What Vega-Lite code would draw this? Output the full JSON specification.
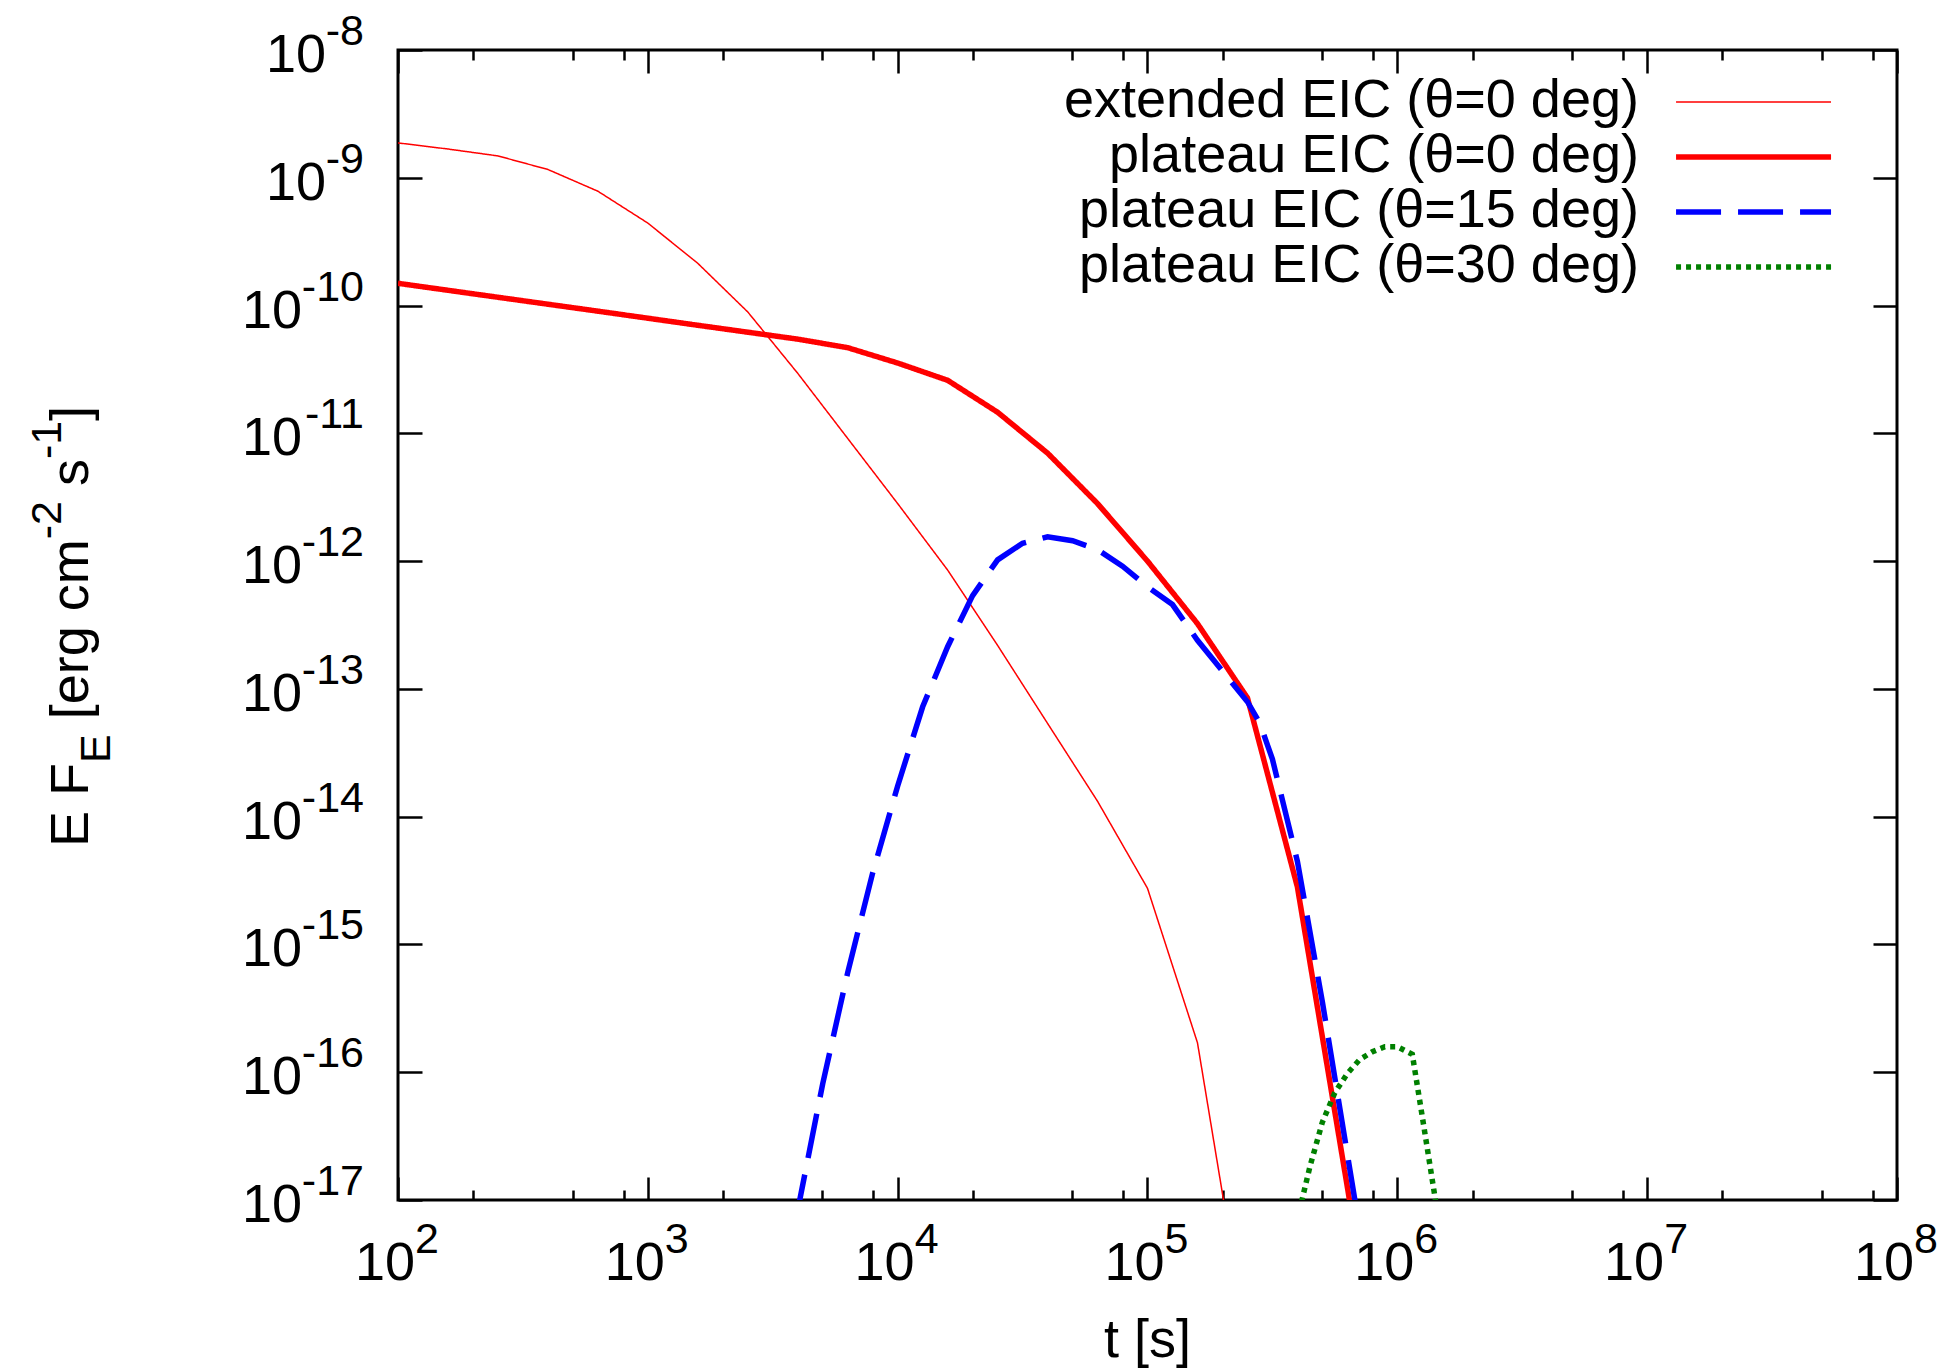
{
  "$schema": "https://vega.github.io/schema/vega-lite/v6.json",
  "width": 1499,
  "height": 1150,
  "autosize": {"type": "none"},
  "padding": {"left": 398, "top": 50, "right": 50, "bottom": 171},
  "background": "white",
  "config": {
    "view": {"stroke": "black", "strokeWidth": 3},
    "text": {"font": "Liberation Sans", "color": "black"}
  },
  "resolve": {"axis": {"x": "independent", "y": "independent"}},
  "datasets": {
    "curves": [
      {"series": "extended EIC (θ=0 deg)", "t": 100, "F": 1.875e-9},
      {"series": "extended EIC (θ=0 deg)", "t": 158.5, "F": 1.679e-9},
      {"series": "extended EIC (θ=0 deg)", "t": 251.2, "F": 1.483e-9},
      {"series": "extended EIC (θ=0 deg)", "t": 398.1, "F": 1.161e-9},
      {"series": "extended EIC (θ=0 deg)", "t": 631, "F": 7.85e-10},
      {"series": "extended EIC (θ=0 deg)", "t": 1000, "F": 4.42e-10},
      {"series": "extended EIC (θ=0 deg)", "t": 1585, "F": 2.14e-10},
      {"series": "extended EIC (θ=0 deg)", "t": 2512, "F": 8.91e-11},
      {"series": "extended EIC (θ=0 deg)", "t": 3981, "F": 2.95e-11},
      {"series": "extended EIC (θ=0 deg)", "t": 6310, "F": 9.12e-12},
      {"series": "extended EIC (θ=0 deg)", "t": 10000, "F": 2.82e-12},
      {"series": "extended EIC (θ=0 deg)", "t": 15850, "F": 8.51e-13},
      {"series": "extended EIC (θ=0 deg)", "t": 25120, "F": 2.19e-13},
      {"series": "extended EIC (θ=0 deg)", "t": 39810, "F": 5.37e-14},
      {"series": "extended EIC (θ=0 deg)", "t": 63100, "F": 1.32e-14},
      {"series": "extended EIC (θ=0 deg)", "t": 100000, "F": 2.75e-15},
      {"series": "extended EIC (θ=0 deg)", "t": 158500, "F": 1.7e-16},
      {"series": "extended EIC (θ=0 deg)", "t": 223900, "F": 2.88e-18},
      {"series": "plateau EIC (θ=0 deg)", "t": 100, "F": 1.493e-10},
      {"series": "plateau EIC (θ=0 deg)", "t": 251.2, "F": 1.161e-10},
      {"series": "plateau EIC (θ=0 deg)", "t": 631, "F": 9.04e-11},
      {"series": "plateau EIC (θ=0 deg)", "t": 1585, "F": 7.01e-11},
      {"series": "plateau EIC (θ=0 deg)", "t": 3981, "F": 5.46e-11},
      {"series": "plateau EIC (θ=0 deg)", "t": 6310, "F": 4.68e-11},
      {"series": "plateau EIC (θ=0 deg)", "t": 10000, "F": 3.55e-11},
      {"series": "plateau EIC (θ=0 deg)", "t": 15850, "F": 2.6e-11},
      {"series": "plateau EIC (θ=0 deg)", "t": 25120, "F": 1.462e-11},
      {"series": "plateau EIC (θ=0 deg)", "t": 39810, "F": 7.0e-12},
      {"series": "plateau EIC (θ=0 deg)", "t": 63100, "F": 2.82e-12},
      {"series": "plateau EIC (θ=0 deg)", "t": 100000, "F": 1.0e-12},
      {"series": "plateau EIC (θ=0 deg)", "t": 158500, "F": 3.24e-13},
      {"series": "plateau EIC (θ=0 deg)", "t": 251200, "F": 8.51e-14},
      {"series": "plateau EIC (θ=0 deg)", "t": 398100, "F": 2.82e-15},
      {"series": "plateau EIC (θ=0 deg)", "t": 631000, "F": 1.26e-17},
      {"series": "plateau EIC (θ=0 deg)", "t": 707900, "F": 3.16e-18},
      {"series": "plateau EIC (θ=15 deg)", "t": 3162, "F": 7.94e-19},
      {"series": "plateau EIC (θ=15 deg)", "t": 3981, "F": 8.32e-18},
      {"series": "plateau EIC (θ=15 deg)", "t": 5012, "F": 8.13e-17},
      {"series": "plateau EIC (θ=15 deg)", "t": 6310, "F": 6.03e-16},
      {"series": "plateau EIC (θ=15 deg)", "t": 7943, "F": 3.63e-15},
      {"series": "plateau EIC (θ=15 deg)", "t": 10000, "F": 1.74e-14},
      {"series": "plateau EIC (θ=15 deg)", "t": 12590, "F": 7.24e-14},
      {"series": "plateau EIC (θ=15 deg)", "t": 15850, "F": 2.14e-13},
      {"series": "plateau EIC (θ=15 deg)", "t": 19950, "F": 5.37e-13},
      {"series": "plateau EIC (θ=15 deg)", "t": 25120, "F": 1.023e-12},
      {"series": "plateau EIC (θ=15 deg)", "t": 31620, "F": 1.38e-12},
      {"series": "plateau EIC (θ=15 deg)", "t": 39810, "F": 1.55e-12},
      {"series": "plateau EIC (θ=15 deg)", "t": 50120, "F": 1.445e-12},
      {"series": "plateau EIC (θ=15 deg)", "t": 63100, "F": 1.23e-12},
      {"series": "plateau EIC (θ=15 deg)", "t": 79430, "F": 9.12e-13},
      {"series": "plateau EIC (θ=15 deg)", "t": 100000, "F": 6.31e-13},
      {"series": "plateau EIC (θ=15 deg)", "t": 125900, "F": 4.57e-13},
      {"series": "plateau EIC (θ=15 deg)", "t": 158500, "F": 2.4e-13},
      {"series": "plateau EIC (θ=15 deg)", "t": 199500, "F": 1.38e-13},
      {"series": "plateau EIC (θ=15 deg)", "t": 251200, "F": 7.94e-14},
      {"series": "plateau EIC (θ=15 deg)", "t": 281800, "F": 5.37e-14},
      {"series": "plateau EIC (θ=15 deg)", "t": 316200, "F": 2.82e-14},
      {"series": "plateau EIC (θ=15 deg)", "t": 398100, "F": 4.47e-15},
      {"series": "plateau EIC (θ=15 deg)", "t": 501200, "F": 3.55e-16},
      {"series": "plateau EIC (θ=15 deg)", "t": 676100, "F": 1.0e-17},
      {"series": "plateau EIC (θ=15 deg)", "t": 794300, "F": 1.58e-18},
      {"series": "plateau EIC (θ=30 deg)", "t": 354800, "F": 2.82e-18},
      {"series": "plateau EIC (θ=30 deg)", "t": 398100, "F": 7.08e-18},
      {"series": "plateau EIC (θ=30 deg)", "t": 446700, "F": 1.82e-17},
      {"series": "plateau EIC (θ=30 deg)", "t": 501200, "F": 4.07e-17},
      {"series": "plateau EIC (θ=30 deg)", "t": 562300, "F": 6.92e-17},
      {"series": "plateau EIC (θ=30 deg)", "t": 631000, "F": 9.77e-17},
      {"series": "plateau EIC (θ=30 deg)", "t": 707900, "F": 1.26e-16},
      {"series": "plateau EIC (θ=30 deg)", "t": 794300, "F": 1.445e-16},
      {"series": "plateau EIC (θ=30 deg)", "t": 891300, "F": 1.585e-16},
      {"series": "plateau EIC (θ=30 deg)", "t": 1000000, "F": 1.585e-16},
      {"series": "plateau EIC (θ=30 deg)", "t": 1148000, "F": 1.38e-16},
      {"series": "plateau EIC (θ=30 deg)", "t": 1259000, "F": 4.47e-17},
      {"series": "plateau EIC (θ=30 deg)", "t": 1413000, "F": 1.07e-17},
      {"series": "plateau EIC (θ=30 deg)", "t": 1585000, "F": 2.51e-18}
    ],
    "xticks": [
      {"t": 100, "e": "2"}, {"t": 1000, "e": "3"}, {"t": 10000, "e": "4"}, {"t": 100000, "e": "5"},
      {"t": 1000000, "e": "6"}, {"t": 10000000, "e": "7"}, {"t": 100000000, "e": "8"}
    ],
    "yticks": [
      {"F": 1e-8, "e": "-8"}, {"F": 1e-9, "e": "-9"}, {"F": 1e-10, "e": "-10"}, {"F": 1e-11, "e": "-11"},
      {"F": 1e-12, "e": "-12"}, {"F": 1e-13, "e": "-13"}, {"F": 1e-14, "e": "-14"}, {"F": 1e-15, "e": "-15"},
      {"F": 1e-16, "e": "-16"}, {"F": 1e-17, "e": "-17"}
    ]
  },
  "layer": [
    {
      "data": {"name": "curves"},
      "transform": [{"filter": {"field": "series", "equal": "extended EIC (θ=0 deg)"}}],
      "mark": {"type": "line", "clip": true, "strokeWidth": 1.5},
      "encoding": {
        "x": {"field": "t", "type": "quantitative",
          "scale": {"type": "log", "domain": [100, 100000000], "nice": false},
          "axis": {"orient": "bottom", "title": null, "labels": false, "domain": false, "grid": false,
            "ticks": true, "tickColor": "black", "tickWidth": 2.5,
            "values": [100,200,500,800,1000,2000,5000,8000,10000,20000,50000,80000,100000,200000,500000,800000,1000000,2000000,5000000,8000000,10000000,20000000,50000000,80000000,100000000],
            "tickSize": {"condition": {"test": "abs(log(datum.value)/LN10 - round(log(datum.value)/LN10)) < 0.001", "value": -23}, "value": -10}}},
        "y": {"field": "F", "type": "quantitative",
          "scale": {"type": "log", "domain": [1e-17, 1e-8], "nice": false},
          "axis": {"orient": "left", "title": null, "labels": false, "domain": false, "grid": false,
            "ticks": true, "tickColor": "black", "tickWidth": 2.5, "tickSize": -24,
            "values": [1e-8,1e-9,1e-10,1e-11,1e-12,1e-13,1e-14,1e-15,1e-16,1e-17]}},
        "color": {"field": "series", "type": "nominal", "legend": null,
          "scale": {"domain": ["extended EIC (θ=0 deg)", "plateau EIC (θ=0 deg)", "plateau EIC (θ=15 deg)", "plateau EIC (θ=30 deg)"],
            "range": ["#ff0000", "#ff0000", "#0000ff", "#008000"]}},
        "strokeDash": {"field": "series", "type": "nominal", "legend": null,
          "scale": {"domain": ["extended EIC (θ=0 deg)", "plateau EIC (θ=0 deg)", "plateau EIC (θ=15 deg)", "plateau EIC (θ=30 deg)"],
            "range": [[1, 0], [1, 0], [45, 17], [5, 5]]}}
      }
    },
    {
      "data": {"name": "curves"},
      "transform": [{"filter": {"not": {"field": "series", "equal": "extended EIC (θ=0 deg)"}}}],
      "mark": {"type": "line", "clip": true, "strokeWidth": 5.5},
      "encoding": {
        "x": {"field": "t", "type": "quantitative", "axis": null},
        "y": {"field": "F", "type": "quantitative", "axis": null},
        "color": {"field": "series", "type": "nominal", "legend": null},
        "strokeDash": {"field": "series", "type": "nominal", "legend": null}
      }
    },
    {
      "data": {"name": "xticks"},
      "mark": {"type": "text", "align": "left", "baseline": "alphabetic", "dx": 17, "dy": 53, "fontSize": 43, "font": "Liberation Sans", "color": "black"},
      "encoding": {
        "x": {"field": "t", "type": "quantitative",
          "axis": {"orient": "top", "title": null, "labels": false, "domain": false, "grid": false,
            "ticks": true, "tickColor": "black", "tickWidth": 2.5,
            "values": [100,200,500,800,1000,2000,5000,8000,10000,20000,50000,80000,100000,200000,500000,800000,1000000,2000000,5000000,8000000,10000000,20000000,50000000,80000000,100000000],
            "tickSize": {"condition": {"test": "abs(log(datum.value)/LN10 - round(log(datum.value)/LN10)) < 0.001", "value": -23}, "value": -10}}},
        "y": {"datum": 1e-17, "type": "quantitative", "axis": null},
        "text": {"field": "e"}
      }
    },
    {
      "data": {"name": "xticks"},
      "mark": {"type": "text", "align": "right", "baseline": "alphabetic", "dx": 17, "dy": 80, "fontSize": 54, "font": "Liberation Sans", "color": "black"},
      "encoding": {
        "x": {"field": "t", "type": "quantitative", "axis": null},
        "y": {"datum": 1e-17, "type": "quantitative", "axis": null},
        "text": {"value": "10"}
      }
    },
    {
      "data": {"name": "yticks"},
      "mark": {"type": "text", "align": "right", "baseline": "alphabetic", "dx": -34, "dy": -5, "fontSize": 43, "font": "Liberation Sans", "color": "black"},
      "encoding": {
        "y": {"field": "F", "type": "quantitative",
          "axis": {"orient": "right", "title": null, "labels": false, "domain": false, "grid": false,
            "ticks": true, "tickColor": "black", "tickWidth": 2.5, "tickSize": -24,
            "values": [1e-8,1e-9,1e-10,1e-11,1e-12,1e-13,1e-14,1e-15,1e-16,1e-17]}},
        "x": {"datum": 100, "type": "quantitative", "axis": null},
        "text": {"field": "e"}
      }
    },
    {
      "data": {"name": "yticks"},
      "transform": [{"filter": "datum.F > 5e-10"}],
      "mark": {"type": "text", "align": "right", "baseline": "alphabetic", "dx": -72, "dy": 22, "fontSize": 54, "font": "Liberation Sans", "color": "black"},
      "encoding": {
        "y": {"field": "F", "type": "quantitative", "axis": null},
        "x": {"datum": 100, "type": "quantitative", "axis": null},
        "text": {"value": "10"}
      }
    },
    {
      "data": {"name": "yticks"},
      "transform": [{"filter": "datum.F < 5e-10"}],
      "mark": {"type": "text", "align": "right", "baseline": "alphabetic", "dx": -96, "dy": 22, "fontSize": 54, "font": "Liberation Sans", "color": "black"},
      "encoding": {
        "y": {"field": "F", "type": "quantitative", "axis": null},
        "x": {"datum": 100, "type": "quantitative", "axis": null},
        "text": {"value": "10"}
      }
    },
    {
      "data": {"values": [{"s": "t [s]"}]},
      "mark": {"type": "text", "align": "center", "baseline": "alphabetic", "dy": 157, "fontSize": 54, "font": "Liberation Sans", "color": "black"},
      "encoding": {
        "x": {"datum": 100000, "type": "quantitative", "axis": null},
        "y": {"datum": 1e-17, "type": "quantitative", "axis": null},
        "text": {"field": "s"}
      }
    },
    {
      "encoding": {
        "x": {"datum": 100, "type": "quantitative", "axis": null},
        "y": {"datum": 3.1623e-13, "type": "quantitative", "axis": null}
      },
      "layer": [
        {"data": {"values": [{"s": "E F"}]},
         "mark": {"type": "text", "angle": 270, "align": "left", "baseline": "alphabetic", "dx": -222, "dy": -310, "fontSize": 54, "font": "Liberation Sans", "color": "black"},
         "encoding": {"text": {"field": "s"}}},
        {"data": {"values": [{"s": "E"}]},
         "mark": {"type": "text", "angle": 270, "align": "left", "baseline": "alphabetic", "dx": -138, "dy": -288, "fontSize": 43, "font": "Liberation Sans", "color": "black"},
         "encoding": {"text": {"field": "s"}}},
        {"data": {"values": [{"s": "[erg cm"}]},
         "mark": {"type": "text", "angle": 270, "align": "left", "baseline": "alphabetic", "dx": -94.3, "dy": -310, "fontSize": 54, "font": "Liberation Sans", "color": "black"},
         "encoding": {"text": {"field": "s"}}},
        {"data": {"values": [{"s": "-2"}]},
         "mark": {"type": "text", "angle": 270, "align": "left", "baseline": "alphabetic", "dx": 85.7, "dy": -337, "fontSize": 43, "font": "Liberation Sans", "color": "black"},
         "encoding": {"text": {"field": "s"}}},
        {"data": {"values": [{"s": "s"}]},
         "mark": {"type": "text", "angle": 270, "align": "left", "baseline": "alphabetic", "dx": 138.9, "dy": -310, "fontSize": 54, "font": "Liberation Sans", "color": "black"},
         "encoding": {"text": {"field": "s"}}},
        {"data": {"values": [{"s": "-1"}]},
         "mark": {"type": "text", "angle": 270, "align": "left", "baseline": "alphabetic", "dx": 165.9, "dy": -337, "fontSize": 43, "font": "Liberation Sans", "color": "black"},
         "encoding": {"text": {"field": "s"}}},
        {"data": {"values": [{"s": "]"}]},
         "mark": {"type": "text", "angle": 270, "align": "left", "baseline": "alphabetic", "dx": 204.1, "dy": -310, "fontSize": 54, "font": "Liberation Sans", "color": "black"},
         "encoding": {"text": {"field": "s"}}}
      ]
    },
    {
      "data": {"values": [{"series": "extended EIC (θ=0 deg)"}]},
      "encoding": {"y": {"datum": 3.92e-9, "type": "quantitative", "axis": null}},
      "layer": [
        {"mark": {"type": "text", "align": "right", "baseline": "alphabetic", "dy": 15, "fontSize": 54, "font": "Liberation Sans", "color": "black"},
         "encoding": {"x": {"datum": 9270000, "type": "quantitative", "axis": null}, "text": {"field": "series"}}},
        {"mark": {"type": "rule", "strokeWidth": 1.5},
         "encoding": {
           "x": {"datum": 13050000, "type": "quantitative", "axis": null},
           "x2": {"datum": 54450000},
           "color": {"field": "series", "type": "nominal", "legend": null},
           "strokeDash": {"field": "series", "type": "nominal", "legend": null}}}
      ]
    },
    {
      "data": {"values": [{"series": "plateau EIC (θ=0 deg)"}]},
      "encoding": {"y": {"datum": 1.456e-9, "type": "quantitative", "axis": null}},
      "layer": [
        {"mark": {"type": "text", "align": "right", "baseline": "alphabetic", "dy": 15, "fontSize": 54, "font": "Liberation Sans", "color": "black"},
         "encoding": {"x": {"datum": 9270000, "type": "quantitative", "axis": null}, "text": {"field": "series"}}},
        {"mark": {"type": "rule", "strokeWidth": 5.5},
         "encoding": {
           "x": {"datum": 13050000, "type": "quantitative", "axis": null},
           "x2": {"datum": 54450000},
           "color": {"field": "series", "type": "nominal", "legend": null},
           "strokeDash": {"field": "series", "type": "nominal", "legend": null}}}
      ]
    },
    {
      "data": {"values": [{"series": "plateau EIC (θ=15 deg)"}]},
      "encoding": {"y": {"datum": 5.4e-10, "type": "quantitative", "axis": null}},
      "layer": [
        {"mark": {"type": "text", "align": "right", "baseline": "alphabetic", "dy": 15, "fontSize": 54, "font": "Liberation Sans", "color": "black"},
         "encoding": {"x": {"datum": 9270000, "type": "quantitative", "axis": null}, "text": {"field": "series"}}},
        {"mark": {"type": "rule", "strokeWidth": 5.5},
         "encoding": {
           "x": {"datum": 13050000, "type": "quantitative", "axis": null},
           "x2": {"datum": 54450000},
           "color": {"field": "series", "type": "nominal", "legend": null},
           "strokeDash": {"field": "series", "type": "nominal", "legend": null}}}
      ]
    },
    {
      "data": {"values": [{"series": "plateau EIC (θ=30 deg)"}]},
      "encoding": {"y": {"datum": 2.0e-10, "type": "quantitative", "axis": null}},
      "layer": [
        {"mark": {"type": "text", "align": "right", "baseline": "alphabetic", "dy": 15, "fontSize": 54, "font": "Liberation Sans", "color": "black"},
         "encoding": {"x": {"datum": 9270000, "type": "quantitative", "axis": null}, "text": {"field": "series"}}},
        {"mark": {"type": "rule", "strokeWidth": 5.5},
         "encoding": {
           "x": {"datum": 13050000, "type": "quantitative", "axis": null},
           "x2": {"datum": 54450000},
           "color": {"field": "series", "type": "nominal", "legend": null},
           "strokeDash": {"field": "series", "type": "nominal", "legend": null}}}
      ]
    }
  ]
}
